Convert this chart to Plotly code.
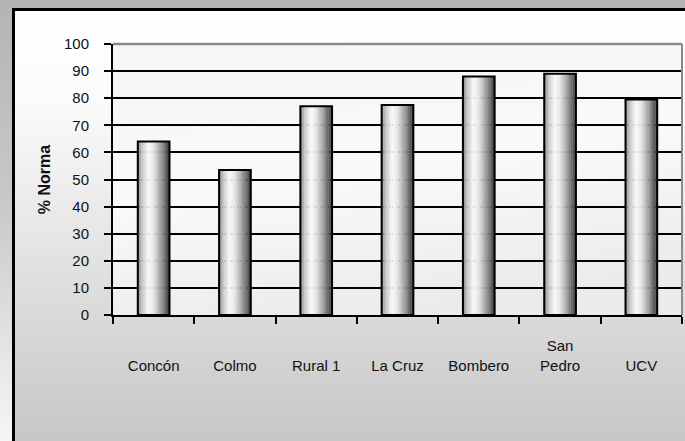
import base64
import plotly.graph_objects as go

# ---- data ----
categories = ["Concón", "Colmo", "Rural 1", "La Cruz", "Bombero", "San Pedro", "UCV"]
tick_labels = ["<br>Concón", "<br>Colmo", "<br>Rural 1", "<br>La Cruz", "<br>Bombero", "San<br>Pedro", "<br>UCV"]
values = [64, 53.5, 77, 77.5, 88, 89, 79.5]
y_ticks = [0, 10, 20, 30, 40, 50, 60, 70, 80, 90, 100]
y_title = "% Norma"

W, H = 685, 441
L, R, T, B = 113, 3, 44, 126
PW, PH = W - L - R, H - T - B

FONT = "Arial, Liberation Sans, sans-serif"


def svg_uri(svg):
    return "data:image/svg+xml;base64," + base64.b64encode(svg.encode()).decode()


def px_to_paper_x(p):
    return (p - L) / PW


def px_to_paper_y(p):
    return (H - B - p) / PH


# cylinder shading profile (style only)
def shade(t):
    pts = [(0.0, 130), (0.12, 195), (0.33, 250), (0.5, 230), (0.75, 150), (0.92, 85), (1.0, 60)]
    for (t0, c0), (t1, c1) in zip(pts, pts[1:]):
        if t0 <= t <= t1:
            c = c0 + (c1 - c0) * (t - t0) / (t1 - t0)
            return int(round(c))
    return pts[-1][1]


bar_w = 0.39
N = 18
fig = go.Figure()
for i in range(N):
    t = (i + 0.5) / N
    c = shade(t)
    fig.add_trace(go.Bar(
        x=categories, y=values,
        width=bar_w / N * 1.15, offset=-bar_w / 2 + i * bar_w / N,
        marker=dict(color=f"rgb({c},{c},{c})", line=dict(width=0)),
        hoverinfo="skip", showlegend=False,
    ))
fig.add_trace(go.Bar(
    x=categories, y=values, width=bar_w, offset=-bar_w / 2,
    marker=dict(color="rgba(0,0,0,0)", line=dict(color="black", width=2)),
    showlegend=False,
))

# backgrounds
page_svg = f'''<svg xmlns="http://www.w3.org/2000/svg" width="{W}" height="{H}" viewBox="0 0 {W} {H}" preserveAspectRatio="none">
<defs><linearGradient id="g" x1="0" y1="0" x2="0" y2="1">
<stop offset="0" stop-color="#b4b4b4"/><stop offset="0.45" stop-color="#c8c8c8"/><stop offset="1" stop-color="#f6f6f6"/></linearGradient></defs>
<rect x="0" y="0" width="{W}" height="{H}" fill="url(#g)"/></svg>'''

bx0, by0 = 12, 8
bw, bh = W - bx0 + 10, H - by0 + 10
box_svg = f'''<svg xmlns="http://www.w3.org/2000/svg" width="{bw}" height="{bh}" viewBox="0 0 {bw} {bh}" preserveAspectRatio="none">
<defs><linearGradient id="g" x1="0" y1="0" x2="0" y2="1">
<stop offset="0" stop-color="#ffffff"/><stop offset="0.2" stop-color="#fbfbfb"/><stop offset="1" stop-color="#c4c4c4"/></linearGradient></defs>
<rect x="1.5" y="1.5" width="{bw+5}" height="{bh+5}" fill="url(#g)" stroke="#000" stroke-width="3"/></svg>'''

plot_svg = f'''<svg xmlns="http://www.w3.org/2000/svg" width="{PW}" height="{PH}" viewBox="0 0 {PW} {PH}" preserveAspectRatio="none">
<defs><linearGradient id="g" x1="0.2" y1="0" x2="0.5" y2="1">
<stop offset="0" stop-color="#f6f6f6"/><stop offset="0.5" stop-color="#f9f9f9"/><stop offset="1" stop-color="#ebebeb"/></linearGradient></defs>
<rect x="0" y="0" width="{PW}" height="{PH}" fill="url(#g)"/></svg>'''

images = [
    dict(source=svg_uri(page_svg), xref="paper", yref="paper",
         x=px_to_paper_x(0), y=px_to_paper_y(0), sizex=W / PW, sizey=H / PH,
         xanchor="left", yanchor="top", sizing="stretch", layer="below"),
    dict(source=svg_uri(box_svg), xref="paper", yref="paper",
         x=px_to_paper_x(bx0), y=px_to_paper_y(by0), sizex=bw / PW, sizey=bh / PH,
         xanchor="left", yanchor="top", sizing="stretch", layer="below"),
    dict(source=svg_uri(plot_svg), xref="paper", yref="paper",
         x=0, y=1, sizex=1, sizey=1,
         xanchor="left", yanchor="top", sizing="stretch", layer="below"),
]

fig.update_layout(
    width=W, height=H,
    margin=dict(l=L, r=R, t=T, b=B, pad=0),
    barmode="overlay",
    paper_bgcolor="#bcbcbc",
    plot_bgcolor="rgba(0,0,0,0)",
    font=dict(family=FONT, size=15, color="#111"),
    images=images,
    showlegend=False,
    shapes=[
        dict(type="line", xref="paper", yref="paper", x0=0, x1=1, y0=1, y1=1,
             line=dict(color="#8a8a8a", width=2.5)),
        dict(type="line", xref="paper", yref="paper", x0=1, x1=1, y0=0, y1=1,
             line=dict(color="#8a8a8a", width=2)),
    ],
)
fig.update_xaxes(
    categoryorder="array", categoryarray=categories,
    tickmode="array", tickvals=categories, ticktext=tick_labels,
    tickson="boundaries", ticks="outside", ticklen=7, tickwidth=1.5, tickcolor="black",
    showline=True, linecolor="black", linewidth=2,
    showgrid=False, ticklabelstandoff=16,
    tickfont=dict(family=FONT, size=15, color="#111"),
)
fig.update_yaxes(
    range=[0, 100], tickvals=y_ticks, ticks="outside", ticklen=7, tickwidth=1.5, tickcolor="black",
    showline=True, linecolor="black", linewidth=2,
    showgrid=True, gridcolor="black", gridwidth=2, zeroline=False,
    ticklabelstandoff=12,
    tickfont=dict(family=FONT, size=15, color="#111"),
    title=dict(text=f"<b>{y_title}</b>", standoff=9, font=dict(family=FONT, size=16, color="#111")),
)

fig.write_html("out.html", config={"displayModeBar": False},
               post_script="document.body.style.margin='0px';")
